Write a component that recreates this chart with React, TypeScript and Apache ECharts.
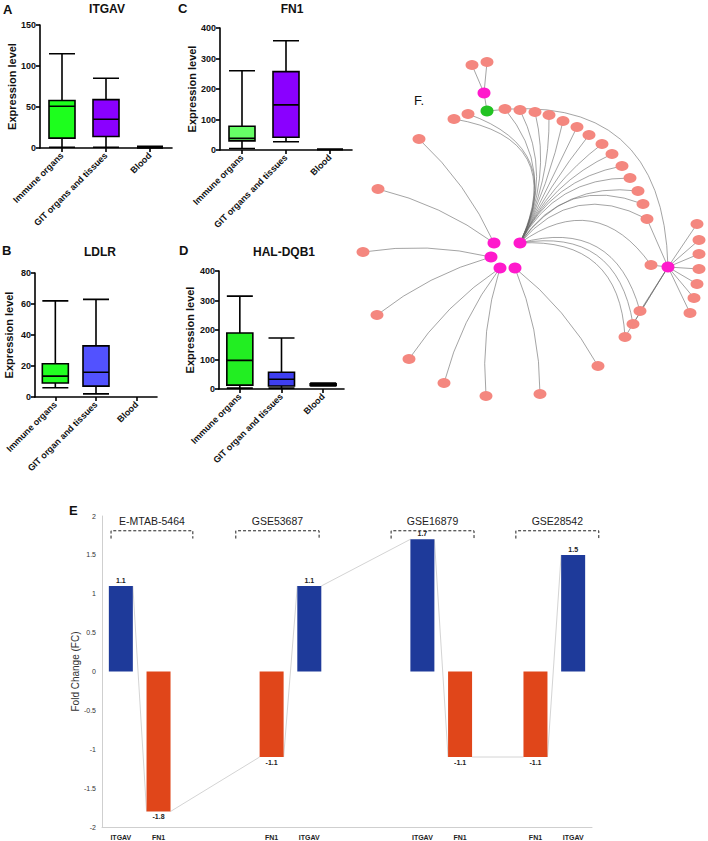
import React, { useEffect, useRef } from 'react';
import * as echarts from 'echarts';

// ---------- Box plots (A-D) ----------
const catsAC = ['Immune organs', 'GIT organs and tissues', 'Blood'];
const catsBD = ['Immune organs', 'GIT organ and tissues', 'Blood'];
// [min, Q1, median, Q3, max]
const itgavBox = [[1, 12, 51, 58, 115], [1, 14, 35, 59, 85], [0, 1, 1, 1, 2]];
const fn1Box = [[5, 30, 38, 78, 260], [27, 42, 148, 257, 358], [1, 2, 2, 2, 3]];
const ldlrBox = [[6, 9, 13.5, 21.5, 62], [2, 7, 16, 33, 63]];
const hlaBox = [[3, 13, 97, 190, 315], [3, 10, 33, 57, 173], [10, 12, 15, 18, 20]];
const itgavColors = ['#1dff1d', '#8a00ff', '#1dff1d'];
const fn1Colors = ['#66ff66', '#8a00ff', '#66ff66'];
const ldlrColors = ['#22ff22', '#5252ff'];
const hlaColors = ['#22ee22', '#3f3ff0', '#111111'];

// ---------- Fold change bars (E) ----------
const fcCats = ['ITGAV', 'FN1', '', ' ', 'FN1', 'ITGAV', '  ', '   ', 'ITGAV', 'FN1', '    ', 'FN1', 'ITGAV'];
const fcValues: (number | null)[] = [1.1, -1.8, null, null, -1.1, 1.1, null, null, 1.7, -1.1, null, -1.1, 1.5];
const fcTicks = [-2, 2, 0.5];
const datasets = ['E-MTAB-5464', 'GSE53687', 'GSE16879', 'GSE28542'];
const datasetStart = [-0.26, 3.05, 7.17, 10.48];
const datasetEnd = [1.91, 5.26, 9.37, 12.68];
const bracketLevel = 1.81;

// ---------- Network (F) ----------
// kind: 0 pink term, 1 magenta hub, 2 green
const nodeX = [484, 487, 472, 487, 520, 494, 491, 500, 515, 668,
  454, 468, 505, 520, 535, 549, 563, 577, 589, 602, 612, 622, 630, 638, 643, 647, 651, 640, 633, 625,
  419, 378, 363, 377, 409, 444, 486, 540, 598,
  697, 699, 699, 699, 697, 694, 690];
const nodeY = [93, 111, 65, 62, 243, 243, 257, 268, 268, 267,
  119, 114, 109, 110, 112, 115, 121, 127, 135, 144, 154, 166, 178, 191, 204, 219, 265, 311, 324, 337,
  139, 189, 252, 315, 359, 383, 396, 394, 366,
  224, 240, 254, 269, 284, 298, 313];
const nodeKind = [1, 2, 0, 0, 1, 1, 1, 1, 1, 1,
  0, 0, 0, 0, 0, 0, 0, 0, 0, 0, 0, 0, 0, 0, 0, 0, 0, 0, 0, 0,
  0, 0, 0, 0, 0, 0, 0, 0, 0,
  0, 0, 0, 0, 0, 0, 0];
const edges: [number, number][] = [
  [0, 2], [0, 3], [0, 1], [1, 9],
  [4, 10], [4, 11], [4, 12], [4, 13], [4, 14], [4, 15], [4, 16], [4, 17], [4, 18], [4, 19], [4, 20],
  [4, 21], [4, 22], [4, 23], [4, 24], [4, 25], [4, 26], [4, 27], [4, 28], [4, 29],
  [5, 30], [5, 31], [6, 32], [6, 33], [7, 34], [7, 35], [7, 36], [8, 37], [8, 38],
  [9, 25], [9, 26], [9, 27], [9, 28], [9, 29],
  [9, 39], [9, 40], [9, 41], [9, 42], [9, 43], [9, 44], [9, 45],
];

const FONT = '"Liberation Sans", Arial, Helvetica, sans-serif';

function boxAxes(grid: number, cats: string[], max: number, interval: number, nameGap: number) {
  const x = {
    type: 'category', gridIndex: grid, data: cats,
    axisLine: { lineStyle: { color: '#000', width: 1.6 } },
    axisTick: { show: true, alignWithLabel: true, length: 4, lineStyle: { color: '#000', width: 1.6 } },
    axisLabel: { rotate: 45, fontSize: 9, fontWeight: 'bold', color: '#111', fontFamily: FONT, margin: 6, interval: 0 },
  };
  const y = {
    type: 'value', gridIndex: grid, min: 0, max, interval,
    axisLine: { show: true, lineStyle: { color: '#000', width: 1.6 } },
    axisTick: { show: true, length: 4, lineStyle: { color: '#000', width: 1.6 } },
    splitLine: { show: false },
    axisLabel: { fontSize: 9, fontWeight: 'bold', color: '#111', fontFamily: FONT, margin: 4 },
    name: 'Expression level', nameLocation: 'middle', nameGap,
    nameTextStyle: { fontSize: 11, fontWeight: 'bold', color: '#111', fontFamily: FONT },
  };
  return { x, y };
}

function boxSeries(idx: number, data: number[][], colors: string[]) {
  return {
    type: 'boxplot', xAxisIndex: idx, yAxisIndex: idx, boxWidth: [26, 26],
    data: data.map((v, i) => ({ value: v, itemStyle: { color: colors[i], borderColor: '#000', borderWidth: 1.6 } })),
    silent: true,
  };
}

// curveness so the fan edges leave the main hub along a common direction
function fanCurveness(s: number, t: number) {
  const p1 = [nodeX[s], nodeY[s]];
  const p2 = [nodeX[t], nodeY[t]];
  if (p2[1] > p1[1]) return 0.5;
  if (p2[1] > p1[1] - 40 && p2[0] > p1[0]) return 0.4;
  const h = [(p2[0] - p1[0]) / 2, (p2[1] - p1[1]) / 2];
  const perp = [p2[1] - p1[1], p1[0] - p2[0]];
  const d = [0.5, -1];
  const cross = (a: number[], b: number[]) => a[0] * b[1] - a[1] * b[0];
  const c = -cross(h, d) / cross(perp, d);
  return Math.max(-0.65, Math.min(0.3, c));
}

export default function App() {
  const ref = useRef<HTMLDivElement>(null);
  useEffect(() => {
    document.body.style.margin = '0';
    if (!ref.current) return;
    const chart = echarts.init(ref.current, undefined, { renderer: 'svg' });

    const a = boxAxes(0, catsAC, 150, 50, 21);
    const c = boxAxes(1, catsAC, 400, 100, 23);
    const b = boxAxes(2, catsBD, 80, 20, 21);
    const d = boxAxes(3, catsBD, 400, 100, 24);

    const barWidth = 24;
    const barOrder = fcValues.map((v, i) => (v == null ? -1 : i)).filter((i) => i >= 0);
    const connectors = barOrder.slice(0, -1).map((p, k) => [p, fcValues[p], barOrder[k + 1], fcValues[barOrder[k + 1]]]);

    const titleText = (text: string, x: number, y: number, size: number, weight = 'bold', align = 'center') => ({
      type: 'text', x, y, silent: true,
      style: { text, fill: '#111', font: `${weight} ${size}px ${FONT}`, textAlign: align, textVerticalAlign: 'middle' },
    });

    const option: any = {
      animation: false,
      backgroundColor: '#fff',
      graphic: [
        titleText('A', 3, 9, 13, 'bold', 'left'),
        titleText('ITGAV', 107, 9, 12),
        titleText('C', 178, 8, 13, 'bold', 'left'),
        titleText('FN1', 292, 9, 12),
        titleText('B', 2, 250, 13, 'bold', 'left'),
        titleText('LDLR', 100, 252, 12),
        titleText('D', 179, 250, 13, 'bold', 'left'),
        titleText('HAL-DQB1', 284, 252, 12),
        titleText('E', 69, 510, 13, 'bold', 'left'),
        titleText('F.', 414, 100, 13, 'normal', 'left'),
      ],
      grid: [
        { left: 40, top: 25, width: 132, height: 123 },
        { left: 220, top: 28, width: 132, height: 122 },
        { left: 35, top: 273, width: 122, height: 124 },
        { left: 219, top: 271, width: 125, height: 118 },
        { left: 102, top: 516, width: 490, height: 311 },
      ],
      xAxis: [a.x, c.x, b.x, d.x, {
        type: 'category', gridIndex: 4, data: fcCats,
        axisLine: { onZero: false, lineStyle: { color: '#cfcfcf', width: 1 } },
        axisTick: { show: false },
        axisLabel: { fontSize: 7, fontWeight: 'bold', color: '#222', fontFamily: FONT, margin: 7, interval: 0 },
      }],
      yAxis: [a.y, c.y, b.y, d.y, {
        type: 'value', gridIndex: 4, min: fcTicks[0], max: fcTicks[1], interval: fcTicks[2],
        axisLine: { show: true, lineStyle: { color: '#cfcfcf', width: 1 } },
        axisTick: { show: false },
        splitLine: { show: false },
        axisLabel: { fontSize: 7, color: '#333', fontFamily: FONT, margin: 6 },
        name: 'Fold Change (FC)', nameLocation: 'middle', nameGap: 22, nameMoveOverlap: false,
        nameTextStyle: { fontSize: 10, color: '#333', fontFamily: FONT },
      }],
      series: [
        boxSeries(0, itgavBox, itgavColors),
        boxSeries(1, fn1Box, fn1Colors),
        boxSeries(2, ldlrBox, ldlrColors),
        boxSeries(3, hlaBox, hlaColors),
        {
          type: 'custom', xAxisIndex: 4, yAxisIndex: 4, silent: true, z: 1,
          data: connectors,
          encode: { x: 0, y: 1 },
          renderItem: (params: any, api: any) => {
            const p1 = api.coord([api.value(0), api.value(1)]);
            const p2 = api.coord([api.value(2), api.value(3)]);
            return {
              type: 'line',
              shape: { x1: p1[0] + barWidth / 2, y1: p1[1], x2: p2[0] - barWidth / 2, y2: p2[1] },
              style: { stroke: '#d4d4d4', lineWidth: 1 },
            };
          },
        },
        {
          type: 'bar', xAxisIndex: 4, yAxisIndex: 4, barWidth, silent: true, z: 2,
          data: fcValues.map((v, i) => (v == null ? '-' : {
            value: v,
            itemStyle: { color: fcCats[i] === 'ITGAV' ? '#1e3a9a' : '#e0461a' },
            label: { position: v >= 0 ? 'top' : 'bottom' },
          })),
          label: { show: true, fontSize: 7, fontWeight: 'bold', color: '#222', fontFamily: FONT, distance: 2, formatter: '{c}' },
        },
        {
          type: 'custom', xAxisIndex: 4, yAxisIndex: 4, silent: true, z: 3,
          data: datasets.map((_, i) => [i, bracketLevel]),
          encode: { x: 0, y: 1 },
          renderItem: (params: any, api: any) => {
            const i = params.dataIndex;
            const base = api.coord([0, bracketLevel]);
            const band = api.size([1, 0])[0];
            const x1 = base[0] + datasetStart[i] * band;
            const x2 = base[0] + datasetEnd[i] * band;
            const y1 = base[1];
            const y2 = api.coord([0, bracketLevel - 0.1])[1];
            const yt = api.coord([0, bracketLevel + 0.12])[1];
            return {
              type: 'group',
              children: [
                {
                  type: 'polyline',
                  shape: { points: [[x1, y2], [x1, y1], [x2, y1], [x2, y2]] },
                  style: { stroke: '#222', lineWidth: 1, lineDash: [3, 2], fill: null },
                },
                {
                  type: 'text',
                  style: { text: datasets[i], x: (x1 + x2) / 2, y: yt, fill: '#222', font: `10.5px ${FONT}`, textAlign: 'center', textVerticalAlign: 'middle' },
                },
              ],
            };
          },
        },
        {
          type: 'graph', layout: 'none', silent: true, roam: false,
          left: Math.min(...nodeX), top: Math.min(...nodeY),
          width: Math.max(...nodeX) - Math.min(...nodeX),
          height: Math.max(...nodeY) - Math.min(...nodeY),
          symbol: 'circle',
          label: { show: false },
          emphasis: { disabled: true },
          lineStyle: { color: '#666', width: 0.6, opacity: 1 },
          data: nodeX.map((x, i) => ({
            x, y: nodeY[i],
            symbolSize: nodeKind[i] === 0 ? [13, 10] : [13, 11],
            itemStyle: { color: nodeKind[i] === 0 ? '#f4877f' : nodeKind[i] === 1 ? '#ff19cc' : '#22c322' },
          })),
          links: edges.map(([s, t]) => {
            let curv = 0;
            if (s === 1 && t === 9) curv = 0.55;
            else if (s === 4) curv = fanCurveness(s, t);
            else if (s >= 5 && s <= 8) curv = 0.1 * Math.sign(nodeX[t] - nodeX[s]);
            return { source: s, target: t, lineStyle: { curveness: curv } };
          }),
        },
      ],
    };
    chart.setOption(option);
    return () => chart.dispose();
  }, []);
  return <div ref={ref} style={{ width: 708, height: 841 }} />;
}
